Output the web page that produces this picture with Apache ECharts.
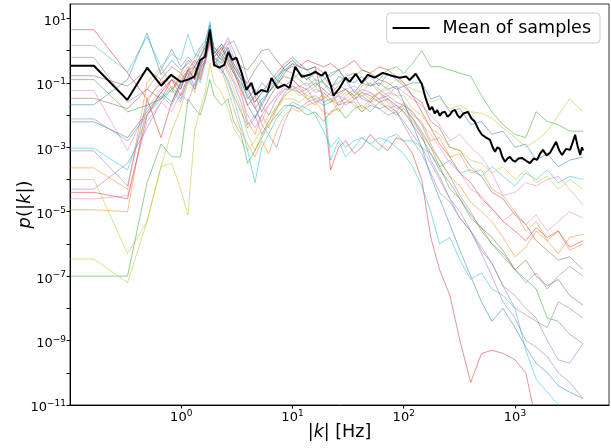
<!DOCTYPE html>
<html>
<head>
<meta charset="utf-8">
<script src="https://cdn.jsdelivr.net/npm/echarts@6/dist/echarts.min.js"></script>
<style>
html,body{margin:0;padding:0;background:#fff;}
#chart{width:611px;height:448px;}
</style>
</head>
<body>
<div id="chart"></div>
<script>
// Frequencies |k| [Hz] shared by every sample curve (first point = left edge of the axis)
const freqs = [
  0.1, 0.164,
  0.329, 0.493, 0.658, 0.822, 0.987,
  1.15, 1.32, 1.48, 1.64, 1.81, 1.97,
  2.3, 2.63, 2.96, 3.45, 3.95, 4.6, 5.3, 6.1, 7.2, 8.5,
  10, 11.5, 13.5, 16, 19, 22, 26, 30, 36, 42, 50, 60, 72, 86, 100, 120,
  145, 175, 210, 260, 320, 400, 500, 620, 780, 1000, 1250, 1550, 1950, 2450, 3100, 4100
];

// Sample curves as log10 of p(|k|)
const sBlueA = [-1.68,-1.68, -0.9,0.55,-0.75,-0.3,-0.6, -0.4,-0.2,0.1,0.3,0.8,0.0,
  -0.3,-0.1,-0.5,-0.9,-1.5,-1.2,-1.7,-1.3,-1.0,-0.6,
  -0.4,-0.7,-0.9,-0.6,-1.0,-1.2,-0.8,-0.9,-1.3,-1.0,-0.8,-1.1,-0.7,-0.9,-1.1,-1.0,
  -1.0,-1.5,-1.4,-1.9,-1.8,-2.3,-2.2,-2.6,-2.5,-3.0,-2.9,-3.4,-3.2,-3.6,-3.4,-3.3];
const sOrangeA = [-3.64,-3.64, -4.3,-1.0,-0.5,-1.2,-0.8, -0.5,-0.9,-0.3,-0.2,0.5,-0.2,
  0.1,-0.3,-0.6,-1.3,-2.2,-2.6,-2.0,-2.4,-1.8,-1.4,
  -1.2,-1.1,-1.5,-1.7,-1.3,-1.5,-1.9,-1.6,-1.4,-1.8,-1.5,-1.3,-1.6,-1.9,-1.6,-2.0,
  -2.2,-2.8,-2.7,-3.3,-3.2,-3.8,-3.7,-4.3,-4.5,-5.0,-5.6,-5.3,-5.9,-5.6,-6.2,-6.0];
const sGreenA = [-0.9,-0.9, -1.9,-1.7,-1.5,-1.2,-0.9, -0.6,-0.5,-0.2,0.1,0.4,-0.3,
  -0.1,-0.4,-0.7,-1.0,-1.4,-1.8,-1.5,-1.3,-1.0,-0.8,
  -0.9,-0.7,-0.8,-1.1,-0.9,-0.7,-0.6,-0.9,-0.8,-0.6,-0.7,-0.9,-0.6,-0.5,-0.7,-0.4,
  0.0,-0.5,-0.5,-0.6,-0.7,-0.8,-1.4,-1.9,-2.3,-2.6,-2.7,-1.9,-2.2,-2.3,-2.5,-2.5];
const sRedA = [0.65,0.65, -0.7,-1.5,-2.7,-1.6,-1.0, -0.6,-0.3,-0.5,0.0,0.6,0.1,
  -0.2,0.1,-0.4,-0.8,-1.2,-1.6,-1.3,-1.0,-0.7,-0.4,
  -0.2,-0.4,-0.6,-0.5,-1.6,-3.7,-3.0,-2.8,-3.2,-3.0,-2.6,-2.9,-3.1,-2.7,-2.8,-3.2,
  -4.0,-5.8,-6.8,-7.6,-9.0,-10.3,-9.4,-9.3,-9.4,-9.6,-10.0,-11.5,-12.5,-12.5,-12.5,-12.5];
const sPurpleA = [-3.11,-3.11, -4.2,-1.5,-1.0,-0.8,-1.2, -0.6,-0.9,-0.4,-0.1,0.5,-0.4,
  -0.2,-0.6,-1.0,-1.6,-2.3,-2.0,-2.6,-2.2,-1.8,-1.3,
  -1.1,-1.3,-1.2,-1.6,-1.5,-1.3,-1.7,-1.4,-1.2,-1.5,-1.6,-1.3,-1.5,-1.8,-1.7,-2.1,
  -2.6,-3.4,-3.9,-4.6,-5.2,-5.6,-6.3,-7.0,-7.8,-8.3,-9.0,-9.2,-9.5,-10.0,-10.3,-10.8];
const sBrownA = [-0.78,-0.78, -1.1,-0.6,-0.9,-0.5,-0.7, -0.3,-0.5,-0.2,0.1,0.6,-0.1,
  0.2,0.0,-0.2,-0.5,-0.6,-0.3,0.0,0.05,-0.3,-0.6,
  -0.5,-0.7,-0.9,-0.7,-0.8,-1.1,-1.0,-0.8,-0.7,-1.0,-1.1,-0.9,-1.0,-1.2,-1.1,-1.4,
  -1.6,-2.2,-2.4,-3.0,-3.1,-3.6,-3.9,-4.4,-4.6,-5.1,-5.4,-5.9,-6.2,-6.5,-6.4,-6.8];
const sPinkA = [-1.24,-1.24, -3.1,-1.8,-1.2,-0.9,-1.1, -0.7,-0.4,-0.6,-0.2,0.4,-0.2,
  0.0,0.3,-0.2,-0.8,-1.3,-1.8,-2.2,-1.7,-1.4,-1.1,
  -0.9,-1.1,-1.0,-1.3,-1.2,-1.0,-1.4,-1.2,-1.1,-1.3,-1.0,-1.2,-1.4,-1.1,-1.3,-1.5,
  -1.7,-2.0,-2.3,-2.8,-2.6,-3.0,-3.3,-3.8,-4.5,-4.4,-4.1,-4.2,-4.0,-3.9,-4.3,-4.8];
const sGrayA = [-0.21,-0.21, -1.6,-1.2,-0.6,0.05,-0.5, -0.2,-0.4,0.0,0.2,0.7,0.1,
  -0.1,0.2,0.3,-0.2,-0.9,-1.4,-1.0,-1.2,-0.8,-0.6,
  -0.7,-0.9,-1.1,-0.9,-1.0,-1.3,-1.1,-1.2,-1.4,-1.2,-1.3,-1.5,-1.4,-1.6,-1.7,-1.9,
  -2.3,-2.9,-3.4,-3.9,-4.5,-5.0,-5.6,-6.0,-6.4,-6.8,-7.2,-6.9,-7.4,-7.0,-6.7,-7.0];
const sOliveA = [-4.0,-4.0, -6.3,-5.3,-3.6,-2.5,-1.8, -1.0,-1.3,-0.7,-0.4,0.3,-0.5,
  -0.3,-0.7,-1.2,-1.8,-2.6,-3.1,-2.6,-2.2,-1.7,-1.4,
  -1.2,-1.4,-1.3,-1.1,-1.4,-1.6,-1.3,-1.2,-1.4,-1.1,-1.0,-1.3,-1.1,-0.9,-1.0,-1.2,
  -1.3,-1.6,-1.5,-1.8,-1.7,-1.9,-1.95,-2.1,-2.4,-2.7,-3.0,-2.8,-2.5,-2.0,-1.5,-1.9];
const sCyanA = [0.16,0.16, -0.66,0.43,-0.5,-0.1,-0.3, 0.5,-0.1,-0.2,0.2,0.9,0.0,
  -0.3,0.1,-0.4,-0.8,-1.2,-1.6,-1.3,-1.1,-0.8,-0.5,
  -0.3,-0.5,-0.6,-0.9,-1.4,-3.4,-2.8,-3.3,-3.0,-2.7,-2.9,-3.1,-2.7,-2.6,-2.8,-2.8,
  -3.0,-3.2,-3.6,-3.4,-3.8,-3.7,-3.9,-3.6,-3.9,-4.2,-3.8,-4.0,-3.7,-4.1,-3.9,-4.0];
const sBlueB = [-2.21,-2.21, -2.7,-1.9,-1.3,-1.6,-1.0, -0.7,-1.1,-0.5,-0.1,0.7,-0.1,
  0.2,-0.2,-0.6,-1.1,-1.7,-2.1,-1.6,-1.3,-0.9,-0.5,
  -0.3,-0.5,-0.6,-0.5,-0.7,-0.8,-0.6,-0.9,-1.0,-0.8,-1.1,-1.0,-1.2,-1.1,-1.6,-2.3,
  -3.0,-3.9,-4.6,-5.4,-6.2,-7.0,-7.8,-8.4,-8.0,-8.6,-9.2,-9.7,-10.0,-10.4,-10.6,-10.8];
const sOrangeB = [-4.94,-4.94, -5.0,-1.6,-0.9,-1.3,-0.7, -1.0,-0.5,-0.8,-0.3,0.3,-0.3,
  -0.6,-1.2,-1.8,-2.5,-2.9,-3.3,-2.8,-3.2,-2.5,-2.0,
  -1.8,-1.9,-1.7,-1.6,-1.9,-2.0,-1.6,-1.5,-1.7,-1.9,-1.6,-1.5,-1.8,-1.7,-1.9,-2.2,
  -2.6,-3.0,-3.4,-3.9,-4.2,-4.7,-5.0,-5.3,-5.8,-6.4,-6.1,-5.6,-5.9,-6.3,-5.8,-5.7];
const sGreenB = [-7.0,-7.0, -7.0,-4.1,-2.9,-3.3,-3.3, -1.5,-1.8,-2.0,-1.5,-0.9,-1.4,
  -1.7,-1.5,-2.2,-2.6,-3.5,-3.1,-2.7,-2.3,-2.0,-1.7,
  -1.7,-1.8,-2.0,-1.9,-2.2,-1.9,-1.8,-2.1,-1.8,-1.7,-1.9,-1.6,-1.8,-2.0,-1.8,-2.1,
  -2.5,-3.0,-3.6,-4.3,-4.6,-5.2,-5.5,-6.0,-6.3,-6.8,-7.1,-7.4,-8.3,-8.4,-8.8,-9.1];
const sRedB = [-4.4,-4.4, -4.6,-2.0,-1.3,-0.9,-1.4, -0.8,-0.5,-0.9,-0.3,0.4,-0.2,
  0.1,-0.3,-0.7,-1.2,-1.7,-1.4,-1.9,-1.5,-1.1,-0.7,
  -0.4,-0.5,-0.3,-0.4,-0.5,-0.4,-0.6,-0.5,-0.3,-0.6,-0.7,-0.5,-0.6,-0.8,-1.0,-1.4,
  -1.9,-2.4,-2.9,-3.3,-3.8,-4.1,-4.6,-4.9,-5.3,-5.6,-5.9,-5.5,-5.8,-5.6,-6.1,-5.9];
const sPurpleB = [-4.3,-4.3, -3.5,-2.4,-1.6,-1.2,-1.6, -0.9,-1.2,-0.6,-0.3,0.3,-0.5,
  0.0,0.4,0.0,-0.6,-1.1,-1.7,-2.3,-2.6,-3.0,-2.2,
  -1.7,-1.8,-1.6,-1.5,-1.7,-1.6,-1.4,-1.7,-1.5,-1.4,-1.6,-1.8,-1.7,-1.9,-2.3,-2.8,
  -3.2,-3.8,-4.4,-4.7,-5.2,-5.6,-6.2,-6.6,-7.3,-7.6,-8.0,-8.3,-9.0,-9.6,-9.7,-9.1];
const sBrownB = [-1.48,-1.48, -1.8,-1.2,-1.5,-0.9,-1.2, -0.6,-0.9,-0.4,-0.1,0.5,-0.2,
  -0.4,-0.1,-0.5,-0.9,-1.0,-0.6,-0.3,-0.6,-0.9,-1.1,
  -0.9,-1.1,-1.2,-1.0,-1.2,-1.4,-1.3,-1.2,-1.5,-1.3,-1.4,-1.6,-1.5,-1.7,-1.9,-2.3,
  -2.7,-3.2,-3.7,-4.1,-4.6,-5.1,-5.5,-5.8,-6.2,-6.8,-6.5,-7.0,-7.3,-7.1,-7.6,-7.9];
const sPinkB = [-4.6,-4.6, -4.5,-2.2,-1.6,-1.9,-1.3, -1.6,-1.0,-0.7,-0.4,0.2,-0.4,
  -0.7,-0.4,-0.9,-1.4,-2.0,-2.4,-2.0,-1.7,-1.4,-1.2,
  -1.1,-1.2,-1.4,-1.2,-1.3,-1.5,-1.4,-1.5,-1.3,-1.4,-1.3,-1.5,-1.3,-1.4,-1.6,-1.9,
  -2.3,-2.6,-3.0,-3.5,-3.8,-4.3,-4.5,-4.9,-5.3,-5.0,-5.4,-5.1,-5.6,-5.3,-5.0,-5.2];
const sGrayB = [-2.12,-2.12, -2.8,-2.0,-1.4,-1.7,-1.1, -0.8,-1.2,-0.6,-0.3,0.4,-0.3,
  -0.6,-0.9,-1.4,-1.9,-2.4,-2.1,-1.7,-2.0,-1.5,-1.2,
  -1.2,-1.3,-1.5,-1.4,-1.6,-1.5,-1.7,-1.6,-1.6,-1.9,-1.7,-1.8,-2.0,-1.9,-2.2,-2.6,
  -3.0,-3.5,-4.0,-4.6,-5.0,-5.6,-6.1,-6.6,-7.3,-8.0,-8.2,-8.4,-8.6,-7.8,-8.0,-8.3];
const sOliveB = [-6.47,-6.47, -7.2,-5.3,-3.6,-3.5,-4.3, -5.1,-2.5,-1.8,-1.3,-0.4,-1.0,
  -1.3,-1.8,-2.4,-2.8,-3.1,-2.8,-2.4,-2.0,-1.8,-1.5,
  -1.5,-1.6,-1.4,-1.5,-1.4,-1.6,-1.5,-1.3,-1.4,-1.3,-1.5,-1.3,-1.2,-1.4,-1.4,-1.8,
  -2.0,-2.4,-2.6,-3.0,-3.1,-3.4,-3.5,-3.8,-3.6,-4.0,-3.7,-4.1,-3.9,-4.3,-4.0,-4.3];
const sCyanB = [-3.03,-3.03, -3.7,-2.0,-1.5,-1.1,-1.5, -0.9,-0.6,-1.0,-0.4,0.8,-0.2,
  -0.5,-1.0,-1.5,-2.3,-3.1,-4.1,-3.0,-2.6,-2.1,-1.8,
  -1.6,-1.7,-1.8,-2.0,-2.5,-3.0,-2.7,-3.0,-2.8,-2.7,-2.9,-2.7,-2.8,-3.0,-3.2,-3.6,
  -4.2,-5.0,-6.0,-5.8,-6.5,-7.1,-6.9,-7.4,-7.6,-8.0,-9.3,-10.2,-10.6,-11.0,-11.5,-12.0];

// Mean of samples (log10 of p(|k|))
const meanFreqs = [0.1,0.164,0.327,0.494,0.66,0.81,0.987,1.15,1.31,1.48,1.64,1.81,1.97,2.2,2.44,2.65,2.88,3.13,3.47,3.85,
  4.27,4.64,5.25,5.95,6.47,7.33,8.47,9.4,10.6,12.1,14.2,16.1,18.3,19.8,22,23.4,26.5,30,32.6,37,
  41.9,47.4,54.8,64.7,78,92,105,113,128,
  145,158,171,180,190,200,211,222,235,247,260,274,288,304,320,345,377,405,436,470,
  505,550,596,630,661,695,730,770,813,855,900,950,1000,1075,1156,1260,1365,1470,1578,1680,
  1786,1920,2066,2200,2340,2500,2650,2880,3126,3300,3473,3650,3855,4000,4100];
const meanLogP = [-0.47,-0.47,-1.53,-0.53,-1.09,-0.75,-0.97,-0.9,-0.81,-0.29,-0.19,0.65,-0.44,-0.53,-0.44,-0.04,-0.29,-0.22,-0.66,-1.22,
  -1.0,-1.37,-1.22,-1.28,-0.85,-1.16,-1.06,-1.16,-0.5,-0.81,-0.75,-0.66,-0.78,-0.66,-1.06,-1.40,-1.16,-0.84,-0.97,-0.72,
  -1.0,-0.75,-0.84,-0.69,-0.78,-0.84,-0.8,-0.91,-0.72,
  -1.03,-1.5,-1.84,-1.75,-1.95,-1.85,-2.02,-1.92,-1.9,-2.05,-1.99,-1.88,-1.84,-2.0,-2.09,-1.95,-1.90,-2.1,-2.21,-2.45,
  -2.61,-2.7,-2.77,-3.0,-3.14,-3.0,-3.05,-3.3,-3.45,-3.35,-3.3,-3.4,-3.45,-3.35,-3.33,-3.42,-3.49,-3.35,-3.39,-3.2,
  -3.08,-3.25,-3.17,-3.0,-2.83,-3.1,-3.24,-3.05,-3.08,-2.85,-2.61,-2.95,-3.24,-3.0,-3.1];

const samples = [sBlueA,sOrangeA,sGreenA,sRedA,sPurpleA,sBrownA,sPinkA,sGrayA,sOliveA,sCyanA,
                 sBlueB,sOrangeB,sGreenB,sRedB,sPurpleB,sBrownB,sPinkB,sGrayB,sOliveB,sCyanB];
const sampleColors = ['#1f77b4','#ff7f0e','#2ca02c','#d62728','#9467bd','#8c564b','#e377c2','#7f7f7f','#bcbd22','#17becf'];
const legendLabel = 'Mean of samples';
const xTitle = '|k| [Hz]';
const yTitle = 'p(|k|)';

const FONT = 'DejaVu Sans';
const chart = echarts.init(document.getElementById('chart'), null, {renderer: 'canvas'});

function powLabel(v, onlyOdd, minExp, maxExp) {
  const e = Math.log10(v);
  const r = Math.round(e);
  if (Math.abs(e - r) > 1e-6) return '';
  if (onlyOdd && Math.abs(r % 2) !== 1) return '';
  if (r < minExp || r > maxExp) return '';
  const s = r < 0 ? '\u2212' + (-r) : String(r);
  return '{b|10}{s|' + s + '}';
}
const labelRich = {
  b: {fontFamily: FONT, fontSize: 13, color: '#000'},
  s: {fontFamily: FONT, fontSize: 9, color: '#000', padding: [0, 0, 8, 0]}
};

const series = samples.map((arr, i) => ({
  type: 'line',
  name: 'sample' + i,
  data: freqs.map((k, j) => [k, Math.pow(10, arr[j])]),
  showSymbol: false,
  symbol: 'none',
  silent: true,
  clip: true,
  z: 2,
  lineStyle: {width: 1, color: sampleColors[i % 10], opacity: 0.5},
  itemStyle: {color: sampleColors[i % 10]}
}));
series.push({
  type: 'line',
  name: legendLabel,
  data: meanFreqs.map((k, j) => [k, Math.pow(10, meanLogP[j])]),
  showSymbol: false,
  symbol: 'none',
  clip: true,
  z: 5,
  lineStyle: {width: 2, color: '#000'},
  itemStyle: {color: '#000'}
});

chart.setOption({
  animation: false,
  backgroundColor: '#fff',
  grid: {left: 70, right: 2, top: 4, bottom: 43, containLabel: false, outerBoundsMode: 'none', show: true,
         borderColor: '#000', borderWidth: 0.8, backgroundColor: 'transparent'},
  legend: {
    data: [legendLabel], right: 11, top: 13, icon: 'rect', itemWidth: 37, itemHeight: 2,
    textStyle: {fontFamily: FONT, fontSize: 17.5, color: '#000', padding: [0, 0, 0, 8]},
    borderColor: '#cccccc', borderWidth: 1, borderRadius: 4, padding: [6, 9, 6, 6],
    backgroundColor: 'rgba(255,255,255,0.8)'
  },
  xAxis: {
    type: 'log', logBase: 10, min: 0.1, max: 7000, interval: 1,
    axisLine: {show: true, lineStyle: {color: '#000', width: 1}},
    axisTick: {show: true, length: 3.5, inside: false, lineStyle: {color: '#000'}},
    splitLine: {show: false},
    axisLabel: {margin: 4, formatter: v => powLabel(v, false, 0, 3), rich: labelRich,
                showMinLabel: false, showMaxLabel: false},
    name: '{t|' + xTitle.replace('k', '}{i|k}{t|') + '}',
    nameLocation: 'middle', nameGap: 18, nameMoveOverlap: false,
    nameTextStyle: {rich: {t: {fontFamily: FONT, fontSize: 17.5, color: '#000'},
                           i: {fontFamily: FONT, fontSize: 17.5, fontStyle: 'italic', color: '#000'}}}
  },
  yAxis: {
    type: 'log', logBase: 10, min: 1e-11, max: 28, interval: 1,
    axisLine: {show: true, lineStyle: {color: '#000', width: 1}},
    axisTick: {show: true, length: 3.5, inside: false, lineStyle: {color: '#000'}},
    splitLine: {show: false},
    axisLabel: {margin: 4, padding: [6, 0, 0, 0], formatter: v => powLabel(v, true, -11, 1), rich: labelRich,
                showMaxLabel: false},
    name: '{i|p}{t|(|}{i|k}{t||)}',
    nameLocation: 'middle', nameGap: 36, nameRotate: 90, nameMoveOverlap: false,
    nameTextStyle: {rich: {t: {fontFamily: FONT, fontSize: 18, color: '#000'},
                           i: {fontFamily: FONT, fontSize: 18, fontStyle: 'italic', color: '#000'}}}
  },
  series: series
});
</script>
</body>
</html>
